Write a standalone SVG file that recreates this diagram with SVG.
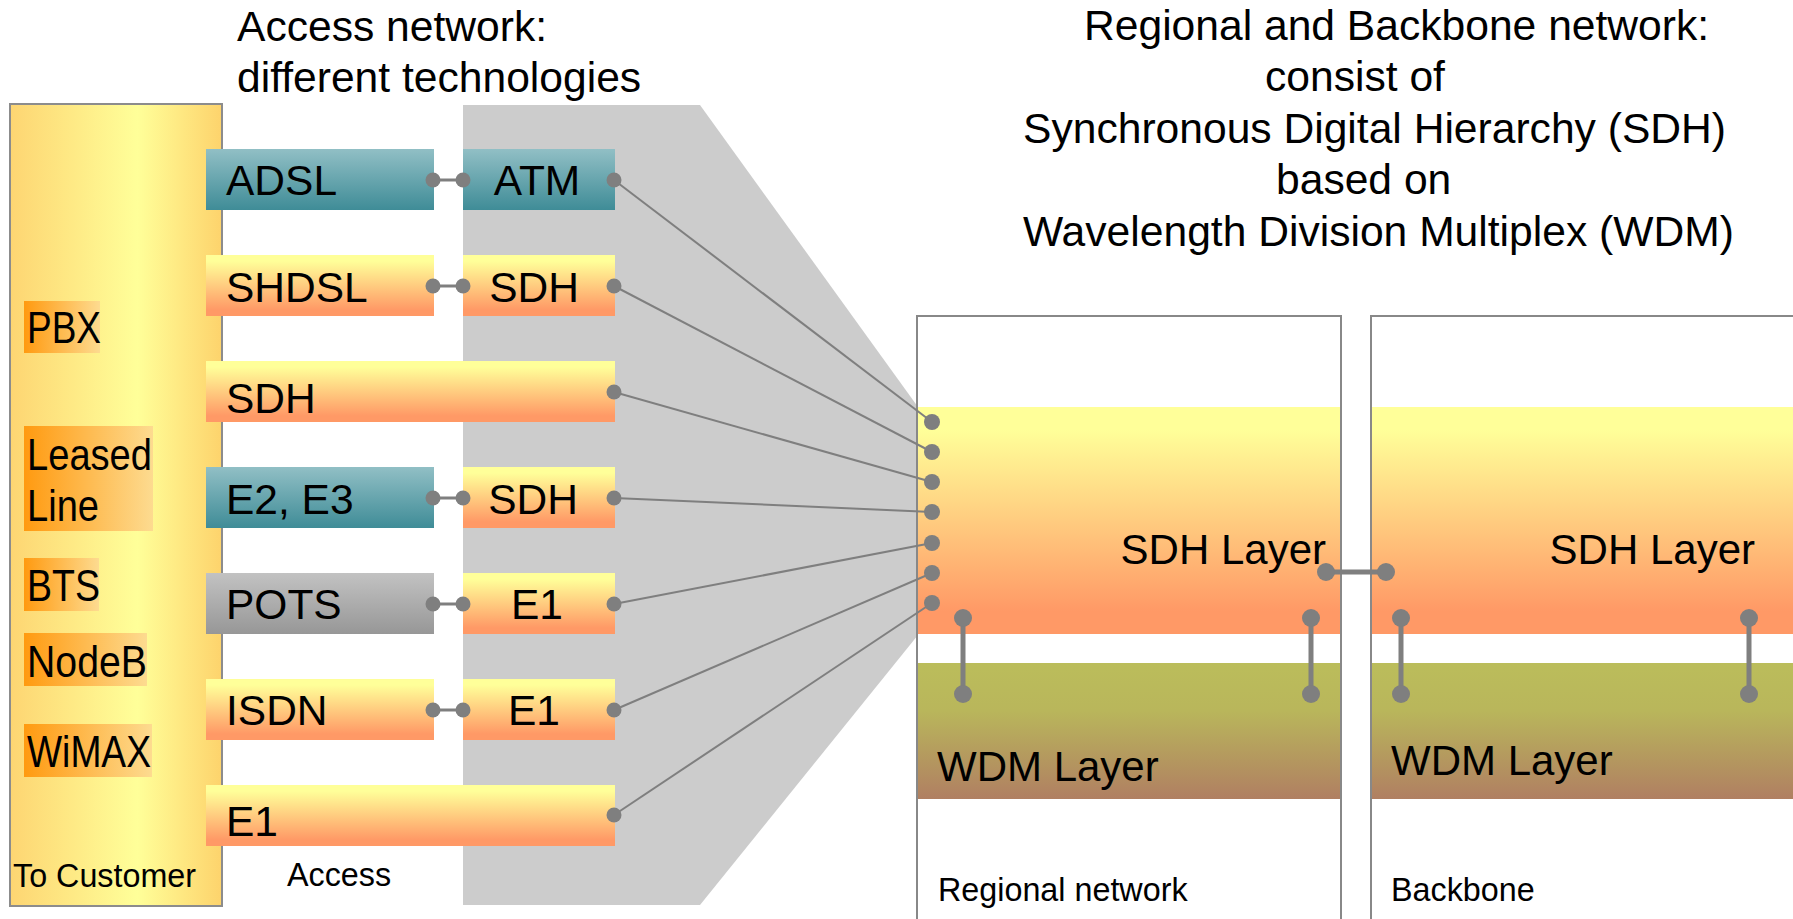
<svg xmlns="http://www.w3.org/2000/svg" width="1793" height="919" viewBox="0 0 1793 919">
  <style>
    text { font-family: "Liberation Sans", Arial, sans-serif; fill: #000; }
    .title { font-size: 42.6px; }
    .box { font-size: 42.5px; }
    .layer { font-size: 42px; }
    .small { font-size: 32.3px; }
    .tag { font-size: 44px; }
    .frame { fill: #fff; stroke: #888; stroke-width: 2; }
    .wire { stroke: #7f7f7f; stroke-width: 2; fill: none; }
    .link { stroke: #7f7f7f; stroke-width: 3; }
    .bar { stroke: #7f7f7f; stroke-width: 5; }
    .dot { fill: #7f7f7f; }
  </style>
  <defs>
    <linearGradient id="gCustomer" x1="0" y1="0" x2="1" y2="0">
      <stop offset="0" stop-color="#fdd572"/>
      <stop offset="0.6" stop-color="#ffff99"/>
      <stop offset="1" stop-color="#fdd36c"/>
    </linearGradient>
    <linearGradient id="gTag" x1="0" y1="0" x2="1" y2="0">
      <stop offset="0" stop-color="#ff9a10"/>
      <stop offset="1" stop-color="#fddb90"/>
    </linearGradient>
    <linearGradient id="gTeal" x1="0" y1="0" x2="0" y2="1">
      <stop offset="0" stop-color="#91bfc5"/>
      <stop offset="1" stop-color="#3f8c97"/>
    </linearGradient>
    <linearGradient id="gSdh" x1="0" y1="0" x2="0" y2="1">
      <stop offset="0.1" stop-color="#ffff99"/>
      <stop offset="0.9" stop-color="#ff9966"/>
    </linearGradient>
    <linearGradient id="gGray" x1="0" y1="0" x2="0" y2="1">
      <stop offset="0" stop-color="#c2c2c2"/>
      <stop offset="1" stop-color="#979797"/>
    </linearGradient>
    <linearGradient id="gWdm" x1="0" y1="0" x2="0" y2="1">
      <stop offset="0" stop-color="#bbbd5b"/>
      <stop offset="0.35" stop-color="#b9b65b"/>
      <stop offset="1" stop-color="#b07f62"/>
    </linearGradient>
  </defs>

  <rect width="1793" height="919" fill="#fff"/>

  <!-- headings -->
  <g id="access-heading">
    <text class="title" x="237" y="41">Access network:</text>
    <text class="title" x="237" y="92">different technologies</text>
  </g>
  <g id="core-heading">
    <text class="title" x="1084" y="40">Regional and Backbone network:</text>
    <text class="title" x="1265" y="91">consist of</text>
    <text class="title" x="1023" y="143">Synchronous Digital Hierarchy (SDH)</text>
    <text class="title" x="1276" y="194">based on</text>
    <text class="title" x="1023" y="246">Wavelength Division Multiplex (WDM)</text>
  </g>

  <!-- aggregation funnel behind the access side -->
  <polygon id="funnel" points="463,105 700,105 918,407 918,635 700,905 463,905" fill="#cccccc"/>

  <!-- customer column -->
  <g id="customer">
    <rect x="10" y="104" width="212" height="802" fill="url(#gCustomer)" stroke="#8c8c8c" stroke-width="2"/>
    <rect x="24" y="301" width="76" height="52" fill="url(#gTag)"/>
    <text class="tag" x="27" y="343" textLength="74" lengthAdjust="spacingAndGlyphs">PBX</text>
    <rect x="24" y="426" width="129" height="105" fill="url(#gTag)"/>
    <text class="tag" x="27" y="470" textLength="125" lengthAdjust="spacingAndGlyphs">Leased</text>
    <text class="tag" x="27" y="521" textLength="72" lengthAdjust="spacingAndGlyphs">Line</text>
    <rect x="24" y="558" width="75" height="53" fill="url(#gTag)"/>
    <text class="tag" x="27" y="601" textLength="73" lengthAdjust="spacingAndGlyphs">BTS</text>
    <rect x="24" y="633" width="123" height="53" fill="url(#gTag)"/>
    <text class="tag" x="27" y="677" textLength="120" lengthAdjust="spacingAndGlyphs">NodeB</text>
    <rect x="24" y="724" width="128" height="53" fill="url(#gTag)"/>
    <text class="tag" x="27" y="767" textLength="124" lengthAdjust="spacingAndGlyphs">WiMAX</text>
    <text class="small" x="13" y="887">To Customer</text>
  </g>

  <!-- access technologies -->
  <g id="adsl"><rect x="206" y="149" width="228" height="61" fill="url(#gTeal)"/><text class="box" x="226" y="195">ADSL</text></g>
  <g id="atm"><rect x="463" y="149" width="152" height="61" fill="url(#gTeal)"/><text class="box" x="537" y="195" text-anchor="middle">ATM</text></g>
  <g id="shdsl"><rect x="206" y="255" width="228" height="61" fill="url(#gSdh)"/><text class="box" x="226" y="302">SHDSL</text></g>
  <g id="sdh-a"><rect x="463" y="255" width="152" height="61" fill="url(#gSdh)"/><text class="box" x="534" y="302" text-anchor="middle">SDH</text></g>
  <g id="sdh-direct"><rect x="206" y="361" width="409" height="61" fill="url(#gSdh)"/><text class="box" x="226" y="413">SDH</text></g>
  <g id="e2e3"><rect x="206" y="467" width="228" height="61" fill="url(#gTeal)"/><text class="box" x="226" y="514">E2, E3</text></g>
  <g id="sdh-b"><rect x="463" y="467" width="152" height="61" fill="url(#gSdh)"/><text class="box" x="533" y="514" text-anchor="middle">SDH</text></g>
  <g id="pots"><rect x="206" y="573" width="228" height="61" fill="url(#gGray)"/><text class="box" x="226" y="619">POTS</text></g>
  <g id="e1-a"><rect x="463" y="573" width="152" height="61" fill="url(#gSdh)"/><text class="box" x="537" y="619" text-anchor="middle">E1</text></g>
  <g id="isdn"><rect x="206" y="679" width="228" height="61" fill="url(#gSdh)"/><text class="box" x="226" y="725">ISDN</text></g>
  <g id="e1-b"><rect x="463" y="679" width="152" height="61" fill="url(#gSdh)"/><text class="box" x="534" y="725" text-anchor="middle">E1</text></g>
  <g id="e1-direct"><rect x="206" y="785" width="409" height="61" fill="url(#gSdh)"/><text class="box" x="226" y="836">E1</text></g>
  <text class="small" x="287" y="886">Access</text>

  <!-- regional network -->
  <g id="regional">
    <rect class="frame" x="917" y="316" width="424" height="640"/>
    <rect x="918" y="407" width="422" height="227" fill="url(#gSdh)"/>
    <rect x="918" y="663" width="422" height="136" fill="url(#gWdm)"/>
    <line x1="917" y1="316" x2="917" y2="919" stroke="#888" stroke-width="2"/>
    <line x1="1341" y1="316" x2="1341" y2="919" stroke="#888" stroke-width="2"/>
    <text class="layer" x="1326" y="564" text-anchor="end">SDH Layer</text>
    <text class="layer" x="937" y="781">WDM Layer</text>
    <text class="small" x="938" y="901">Regional network</text>
  </g>

  <!-- backbone network -->
  <g id="backbone">
    <rect class="frame" x="1371" y="316" width="460" height="640"/>
    <rect x="1372" y="407" width="430" height="227" fill="url(#gSdh)"/>
    <rect x="1372" y="663" width="430" height="136" fill="url(#gWdm)"/>
    <line x1="1371" y1="316" x2="1371" y2="919" stroke="#888" stroke-width="2"/>
    <text class="layer" x="1755" y="564" text-anchor="end">SDH Layer</text>
    <text class="layer" x="1391" y="775">WDM Layer</text>
    <text class="small" x="1391" y="901">Backbone</text>
  </g>

  <!-- connectors -->
  <g id="connectors">
    <!-- access to aggregation -->
    <line class="link" x1="433" y1="180" x2="463" y2="180"/>
    <line class="link" x1="433" y1="286" x2="463" y2="286"/>
    <line class="link" x1="433" y1="498" x2="463" y2="498"/>
    <line class="link" x1="433" y1="604" x2="463" y2="604"/>
    <line class="link" x1="433" y1="710" x2="463" y2="710"/>
    <g class="dot">
      <circle cx="433" cy="180" r="7.5"/><circle cx="463" cy="180" r="7.5"/>
      <circle cx="433" cy="286" r="7.5"/><circle cx="463" cy="286" r="7.5"/>
      <circle cx="433" cy="498" r="7.5"/><circle cx="463" cy="498" r="7.5"/>
      <circle cx="433" cy="604" r="7.5"/><circle cx="463" cy="604" r="7.5"/>
      <circle cx="433" cy="710" r="7.5"/><circle cx="463" cy="710" r="7.5"/>
    </g>
    <!-- aggregation into the regional SDH layer -->
    <line class="wire" x1="614" y1="180" x2="932" y2="422"/>
    <line class="wire" x1="614" y1="286" x2="932" y2="452"/>
    <line class="wire" x1="614" y1="392" x2="932" y2="482"/>
    <line class="wire" x1="614" y1="498" x2="932" y2="512"/>
    <line class="wire" x1="614" y1="604" x2="932" y2="543"/>
    <line class="wire" x1="614" y1="710" x2="932" y2="573"/>
    <line class="wire" x1="614" y1="815" x2="932" y2="603"/>
    <g class="dot">
      <circle cx="614" cy="180" r="7.5"/><circle cx="614" cy="286" r="7.5"/>
      <circle cx="614" cy="392" r="7.5"/><circle cx="614" cy="498" r="7.5"/>
      <circle cx="614" cy="604" r="7.5"/><circle cx="614" cy="710" r="7.5"/>
      <circle cx="614" cy="815" r="7.5"/>
      <circle cx="932" cy="422" r="8"/><circle cx="932" cy="452" r="8"/>
      <circle cx="932" cy="482" r="8"/><circle cx="932" cy="512" r="8"/>
      <circle cx="932" cy="543" r="8"/><circle cx="932" cy="573" r="8"/>
      <circle cx="932" cy="603" r="8"/>
    </g>
    <!-- SDH to WDM layer links -->
    <line class="bar" x1="963" y1="618" x2="963" y2="694"/>
    <line class="bar" x1="1311" y1="618" x2="1311" y2="694"/>
    <line class="bar" x1="1401" y1="618" x2="1401" y2="694"/>
    <line class="bar" x1="1749" y1="618" x2="1749" y2="694"/>
    <!-- regional to backbone SDH link -->
    <line class="bar" x1="1326" y1="572" x2="1386" y2="572"/>
    <g class="dot">
      <circle cx="963" cy="618" r="9"/><circle cx="963" cy="694" r="9"/>
      <circle cx="1311" cy="618" r="9"/><circle cx="1311" cy="694" r="9"/>
      <circle cx="1401" cy="618" r="9"/><circle cx="1401" cy="694" r="9"/>
      <circle cx="1749" cy="618" r="9"/><circle cx="1749" cy="694" r="9"/>
      <circle cx="1326" cy="572" r="9"/><circle cx="1386" cy="572" r="9"/>
    </g>
  </g>
</svg>
